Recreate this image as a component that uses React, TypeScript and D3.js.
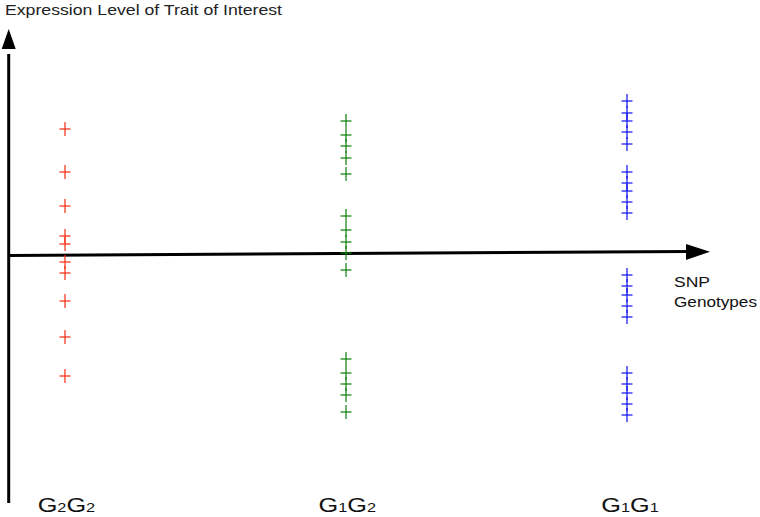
import React from "react";
import * as d3 from "d3";

const categories = ["G2G2", "G1G2", "G1G1"];
const labelMain = ["G", "G"];
const labelSubs = [["2", "2"], ["1", "2"], ["1", "1"]];
const seriesColors = ["#f52a0f", "#0a7f0a", "#0f0fef"];

const g2g2Values = [12.5, 8.2, 4.8, 1.8, 1.0, -0.8, -1.9, -4.7, -8.3, -12.2];
const g1g2Values = [13.3, 11.9, 10.8, 9.6, 8.0, 3.8, 2.4, 1.2, 0.1, -1.6, -10.5, -11.9, -13.0, -14.1, -15.8];
const g1g1Values = [15.3, 14.1, 13.3, 12.2, 11.0, 8.2, 7.1, 6.3, 5.2, 4.1, -2.1, -3.2, -4.1, -5.2, -6.3, -11.9, -13.0, -13.9, -15.0, -16.1];

const yTitle = "Expression Level of Trait of Interest";
const xTitleLines = ["SNP", "Genotypes"];

export default function App() {
  const W = 760;
  const H = 517;
  const x = d3.scalePoint<string>().domain(categories).range([65, 627]);
  const y = d3.scaleLinear().domain([-25, 22.5]).range([504, 29]);
  const series = [g2g2Values, g1g2Values, g1g1Values];
  const labelCenters = [66.4, 347.2, 630];

  const axisX = 8.7;
  const xTipX = 710;
  const xEndY = y(0.25);
  const xStartY = y(-0.15);

  return (
    <svg width={W} height={H} style={{ position: "absolute", left: 0, top: 0, background: "#fff" }}
      fontFamily="'Liberation Sans', Arial, sans-serif">
      <text x={5} y={15} fontSize={15} fill="#222" textLength={277} lengthAdjust="spacingAndGlyphs">{yTitle}</text>

      {/* y axis */}
      <line x1={axisX} x2={axisX} y1={y(-24.9)} y2={y(20)} stroke="#000" strokeWidth={3} />
      <path d={`M${axisX},${y(22.5)} L${axisX - 7},${y(20.5)} L${axisX + 7},${y(20.5)} Z`} fill="#000" />

      {/* x axis */}
      <line x1={axisX} x2={688} y1={xStartY} y2={xEndY} stroke="#000" strokeWidth={3} />
      <path d={`M${xTipX},${y(0.23)} L686,${y(1.0)} L686,${y(-0.6)} Z`} fill="#000" />

      {xTitleLines.map((t, i) => (
        <text key={t} x={674} y={287 + i * 20} fontSize={15} fill="#111"
          textLength={i === 0 ? 36 : 83} lengthAdjust="spacingAndGlyphs">{t}</text>
      ))}

      {series.map((vals, si) => (
        <g key={categories[si]} stroke={seriesColors[si]} strokeWidth={1.2}>
          {vals.map((v, i) => {
            const cx = x(categories[si]) as number;
            const cy = y(v);
            return (
              <g key={i}>
                <line x1={cx - 5.5} x2={cx + 5.5} y1={cy} y2={cy} />
                <line x1={cx} x2={cx} y1={cy - 7} y2={cy + 7} />
              </g>
            );
          })}
        </g>
      ))}

      {categories.map((c, i) => (
        <text key={c} x={labelCenters[i] - 28.7} y={512} fill="#111" textLength={57.5}
          lengthAdjust="spacingAndGlyphs">
          <tspan fontSize={19.5}>{labelMain[0]}</tspan>
          <tspan fontSize={12.6}>{labelSubs[i][0]}</tspan>
          <tspan fontSize={19.5}>{labelMain[1]}</tspan>
          <tspan fontSize={12.6}>{labelSubs[i][1]}</tspan>
        </text>
      ))}
    </svg>
  );
}
